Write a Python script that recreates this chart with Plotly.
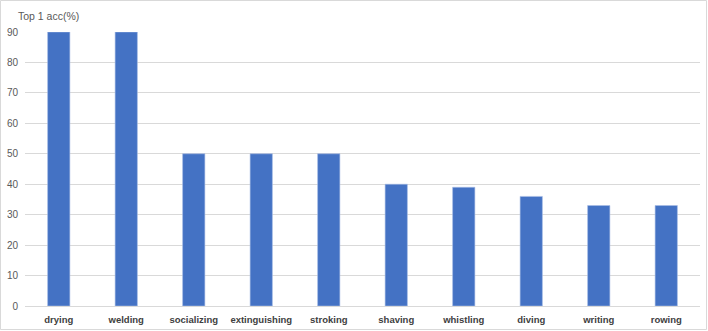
import plotly.graph_objects as go

categories = ["drying", "welding", "socializing", "extinguishing", "stroking",
              "shaving", "whistling", "diving", "writing", "rowing"]
top1_acc = [90, 90, 50, 50, 50, 40, 39, 36, 33, 33]
y_ticks = list(range(0, 100, 10))

W, H = 708, 331
ML, MR, MT, MB = 25, 8, 32, 25

fig = go.Figure(
    go.Bar(
        x=categories,
        y=top1_acc,
        width=0.33,
        marker=dict(color="#4472C4", line=dict(color="#A9BEE6", width=0.6)),
    )
)

fig.update_layout(
    width=W,
    height=H,
    margin=dict(l=ML, r=MR, t=MT, b=MB, autoexpand=False),
    paper_bgcolor="white",
    plot_bgcolor="white",
    font=dict(family="Liberation Sans, Arial, sans-serif", size=10, color="#595959"),
    showlegend=False,
)

fig.update_xaxes(
    automargin=False,
    showgrid=False,
    showline=True,
    linecolor="#D9D9D9",
    linewidth=1,
    ticks="",
    tickfont=dict(size=9.5, color="#404040"),
    ticklabelstandoff=5,
    tickprefix="<b>",
    ticksuffix="</b>",
)

fig.update_yaxes(
    automargin=False,
    range=[0, 90],
    tickvals=y_ticks,
    showgrid=True,
    gridcolor="#D9D9D9",
    gridwidth=1,
    zeroline=False,
    showline=False,
    ticks="",
    tickfont=dict(size=10, color="#595959"),
    ticklabelstandoff=6,
)

pw, ph = W - ML - MR, H - MT - MB

fig.add_annotation(
    text="Top 1 acc(%)",
    xref="paper", yref="paper",
    x=-9 / pw, y=1 + 16 / ph,
    xanchor="left", yanchor="middle",
    showarrow=False,
    font=dict(size=10.5, color="#595959"),
)

# light frame round the whole chart
fig.add_shape(
    type="rect", xref="paper", yref="paper",
    x0=-(ML - 0.5) / pw, x1=1 + (MR - 1.5) / pw,
    y0=-(MB - 1.5) / ph, y1=1 + (MT - 0.5) / ph,
    line=dict(color="#D9D9D9", width=1),
    layer="below",
)

# the page's default body margin would push the chart 8px down and right
fig.write_html(
    "out.html",
    config={"displayModeBar": False},
    post_script="document.body.style.margin='0';",
)
